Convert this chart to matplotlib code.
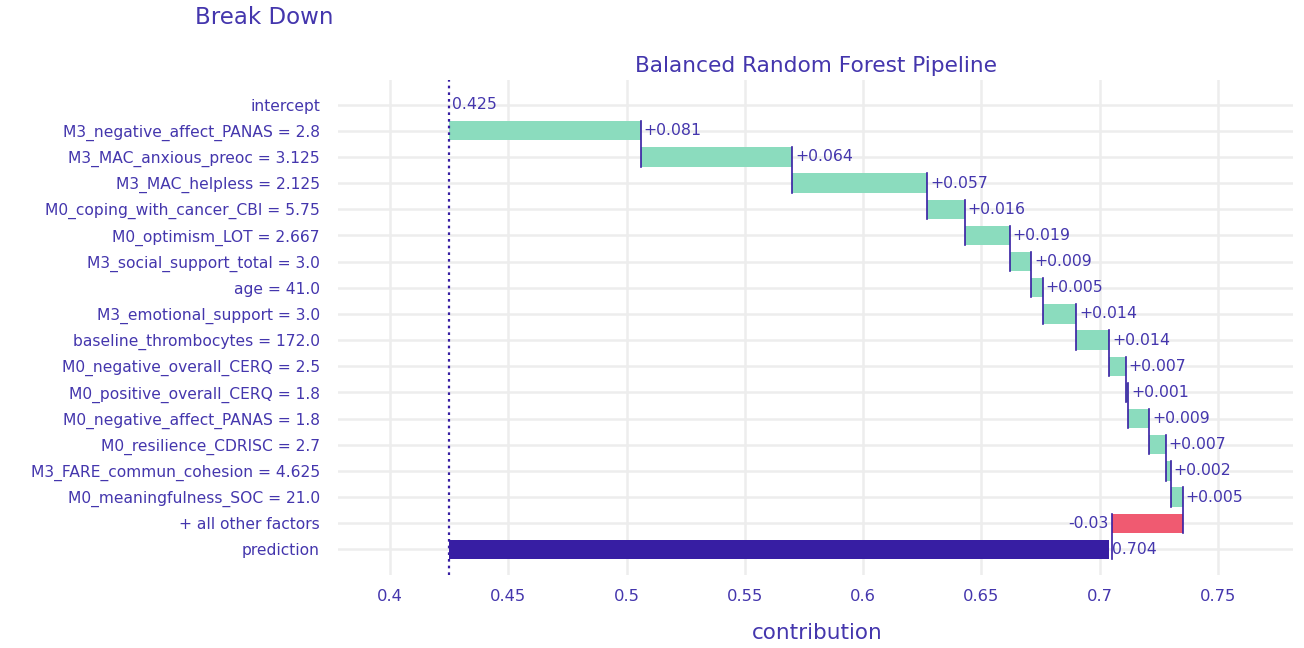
import matplotlib
matplotlib.use("Agg")
import matplotlib.pyplot as plt
import numpy as np

# break down data (dalex style)
labels = ["intercept", "M3_negative_affect_PANAS = 2.8", "M3_MAC_anxious_preoc = 3.125",
          "M3_MAC_helpless = 2.125", "M0_coping_with_cancer_CBI = 5.75", "M0_optimism_LOT = 2.667",
          "M3_social_support_total = 3.0", "age = 41.0", "M3_emotional_support = 3.0",
          "baseline_thrombocytes = 172.0", "M0_negative_overall_CERQ = 2.5",
          "M0_positive_overall_CERQ = 1.8", "M0_negative_affect_PANAS = 1.8",
          "M0_resilience_CDRISC = 2.7", "M3_FARE_commun_cohesion = 4.625",
          "M0_meaningfulness_SOC = 21.0", "+ all other factors", "prediction"]
intercept = 0.425
contrib = [0.081, 0.064, 0.057, 0.016, 0.019, 0.009, 0.005, 0.014, 0.014,
           0.007, 0.001, 0.009, 0.007, 0.002, 0.005, -0.03]
prediction = 0.704

TXT = "#4436ad"
GREEN = "#8bdcbe"
RED = "#f05a71"
DARK = "#371ea3"

fig = plt.figure(figsize=(13.04, 6.48), dpi=100)
ax = fig.add_axes([338/1304, 1-575/648, (1293-338)/1304, (575-80)/648])

bh = 0.74
cum = intercept
ends = []
for i, c in enumerate(contrib):
    y = i + 1
    start = cum
    cum = cum + c
    ends.append(cum)
    ax.barh(y, c, left=start, height=bh, color=GREEN if c > 0 else RED, zorder=2)
    if c > 0:
        ax.text(cum + 0.0012, y, "+%g" % c, color=TXT, fontsize=11.3, va="center", ha="left", zorder=4)
    else:
        ax.text(cum - 0.0012, y, "%g" % c, color=TXT, fontsize=11.3, va="center", ha="right", zorder=4)

# connectors between consecutive bars
for i, e in enumerate(ends):
    y = i + 1
    ax.plot([e, e], [y - bh/2, y + 1 + bh/2], color=DARK, lw=1.2, zorder=3)

n = len(labels)
ax.barh(n - 1, prediction - intercept, left=intercept, height=bh, color=DARK, zorder=2)
ax.text(prediction + 0.0012, n - 1, "%g" % prediction, color=TXT, fontsize=11.3, va="center", ha="left", zorder=4)
ax.text(intercept + 0.0012, 0, "%g" % intercept, color=TXT, fontsize=11.3, va="center", ha="left", zorder=4)

ax.axvline(intercept, color=DARK, ls=(0, (1.2, 1.8)), lw=1.6, zorder=3)

ax.set_yticks(range(n))
ax.set_yticklabels(labels)
ax.set_ylim(n - 1 + 0.98, -0.94)
ax.set_xlim(0.378, 0.7817)
ax.set_xticks([0.4, 0.45, 0.5, 0.55, 0.6, 0.65, 0.7, 0.75])
ax.set_xticklabels(["0.4", "0.45", "0.5", "0.55", "0.6", "0.65", "0.7", "0.75"])
ax.tick_params(axis="both", length=0, colors=TXT)
ax.tick_params(axis="y", pad=13, labelsize=11.2)
ax.tick_params(axis="x", pad=10, labelsize=11.8)
for s in ax.spines.values():
    s.set_visible(False)
ax.grid(True, color="#ededed", lw=1.8, zorder=0)
ax.set_axisbelow(True)

fig.text(195/1304, 1-18/648, "Break Down", color=TXT, fontsize=16.5, ha="left", va="center")
fig.text(816/1304, 1-66/648, "Balanced Random Forest Pipeline", color=TXT, fontsize=15.6, ha="center", va="center")
fig.text(817/1304, 1-633/648, "contribution", color=TXT, fontsize=15.5, ha="center", va="center")

fig.savefig("out.png", dpi=100)
